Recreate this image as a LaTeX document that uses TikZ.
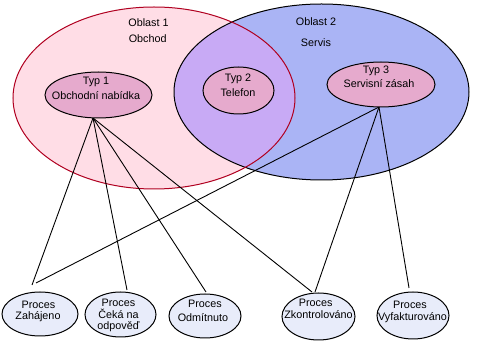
\documentclass[tikz,border=0pt]{standalone}
\usepackage{fontspec}
\setmainfont{Liberation Sans}
\usetikzlibrary{shapes.geometric}
\definecolor{pinkfill}{RGB}{255,221,230}
\definecolor{bluefill}{RGB}{170,180,245}
\definecolor{mixfill}{RGB}{200,170,245}
\definecolor{typfill}{RGB}{230,170,205}
\definecolor{procfill}{RGB}{232,236,250}
\definecolor{redline}{RGB}{176,0,32}
\begin{document}
\begin{tikzpicture}[x=1pt,y=-1pt,
  txt/.style={anchor=base, inner sep=0pt, font=\fontsize{10.8}{13}\selectfont},
  typ/.style={ellipse, draw=black, line width=1pt, fill=typfill, inner sep=0pt},
  proc/.style={ellipse, draw=black, line width=1pt, fill=procfill, inner sep=0pt},
  conn/.style={draw=black, line width=0.9pt}]
\useasboundingbox (0,0) rectangle (480,347);
\fill[white] (0,0) rectangle (480,347);
% areas
\fill[pinkfill] (154,98) ellipse [x radius=141pt, y radius=91pt];
\fill[bluefill] (321.5,92) ellipse [x radius=147.5pt, y radius=88pt];
\begin{scope}
  \clip (154,98) ellipse [x radius=141pt, y radius=91pt];
  \fill[mixfill] (321.5,92) ellipse [x radius=147.5pt, y radius=88pt];
\end{scope}
\draw[black, line width=1pt] (321.5,92) ellipse [x radius=147.5pt, y radius=88pt];
\draw[redline, line width=1pt] (154,98) ellipse [x radius=141pt, y radius=91pt];
% area labels
\node[txt] (o1a) at (148.5,27) {Oblast 1};
\node[txt] (o1b) at (147.7,42.7) {Obchod};
\node[txt] (o2a) at (316,25.7) {Oblast 2};
\node[txt] (o2b) at (316,47) {Servis};
% connector ends
\coordinate (s1) at (93,118);
\coordinate (s3) at (379,107);
\coordinate (ez1) at (32,285);
\coordinate (ez3) at (36,283);
\coordinate (ec1) at (127,290);
\coordinate (eo1) at (206,292);
\coordinate (ek1) at (312,292);
\coordinate (ek3) at (315,292);
\coordinate (ev3) at (409,288);
\draw[conn] (s1) -- (ez1);
\draw[conn] (s1) -- (ec1);
\draw[conn] (s1) -- (eo1);
\draw[conn] (s1) -- (ek1);
\draw[conn] (s3) -- (ez3);
\draw[conn] (s3) -- (ek3);
\draw[conn] (s3) -- (ev3);
% types
\node[typ, minimum width=107pt, minimum height=46pt] (typ1) at (98.5,95) {};
\node[typ, minimum width=71pt, minimum height=47pt] (typ2) at (238.5,90.5) {};
\node[typ, minimum width=108pt, minimum height=45pt] (typ3) at (381,84.5) {};
\node[txt] (t1a) at (96,85) {Typ 1};
\node[txt] (t1b) at (96,100) {Obchodní nabídka};
\node[txt] (t2a) at (238,82) {Typ 2};
\node[txt] (t2b) at (238,96.5) {Telefon};
\node[txt] (t3a) at (376,74) {Typ 3};
\node[txt] (t3b) at (379,88) {Servisní zásah};
% processes
\node[proc, minimum width=76pt, minimum height=44pt] (pz) at (40,314) {};
\node[proc, minimum width=71pt, minimum height=45pt] (pc) at (120.5,314.5) {};
\node[proc, minimum width=72pt, minimum height=44pt] (po) at (205,316) {};
\node[proc, minimum width=73pt, minimum height=47pt] (pk) at (318.5,316.5) {};
\node[proc, minimum width=72pt, minimum height=47pt] (pv) at (413,315.5) {};
\node[txt] (pza) at (38.5,308.5) {Proces};
\node[txt] (pzb) at (38,319.5) {Zahájeno};
\node[txt] (pca) at (118.5,307) {Proces};
\node[txt] (pcb) at (118.5,318.5) {Čeká na};
\node[txt] (pcc) at (118.5,330) {odpověď};
\node[txt] (poa) at (205,308) {Proces};
\node[txt] (pob) at (203,322) {Odmítnuto};
\node[txt] (pka) at (315.7,307) {Proces};
\node[txt] (pkb) at (318.5,319) {Zkontrolováno};
\node[txt] (pva) at (410,309) {Proces};
\node[txt] (pvb) at (412.5,321) {Vyfakturováno};
\end{tikzpicture}
\end{document}
